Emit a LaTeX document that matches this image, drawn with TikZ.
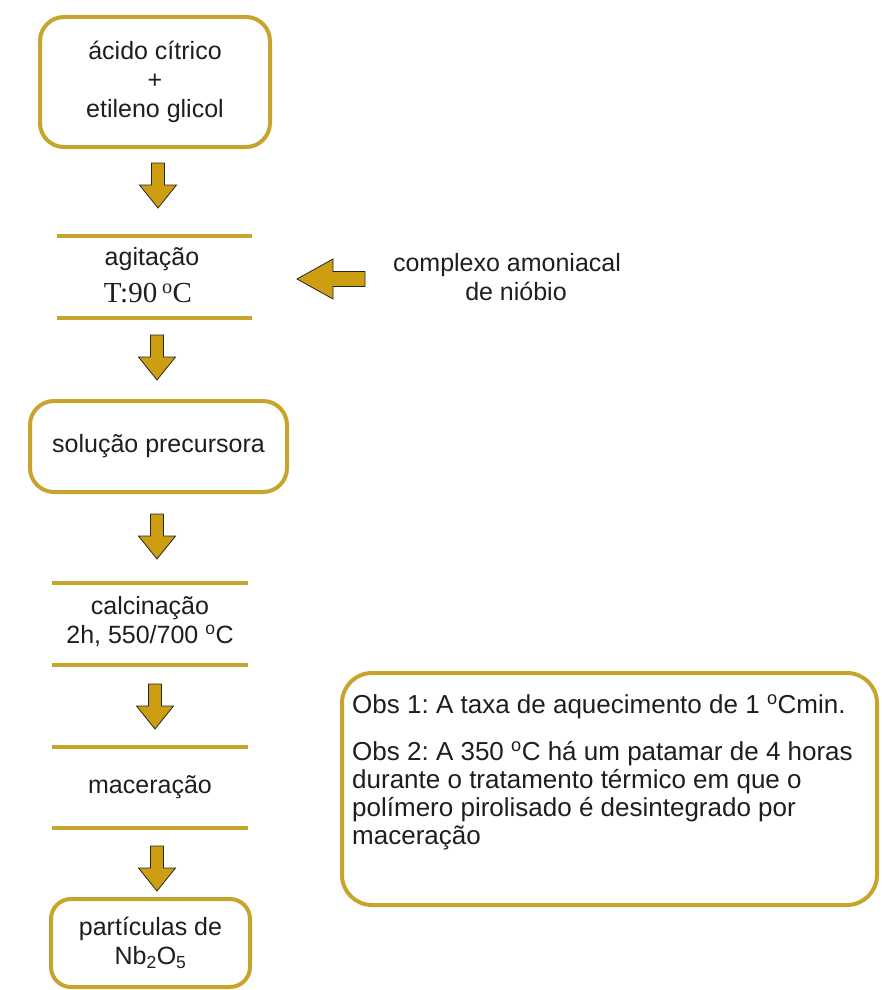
\documentclass[tikz,border=0pt]{standalone}
\usepackage{fontspec}
\setmainfont{Liberation Sans}
\newfontfamily\seriffam{Liberation Serif}
\definecolor{gold}{RGB}{199,165,45}
\definecolor{arrowgold}{RGB}{205,158,18}
\definecolor{txt}{RGB}{30,30,30}
\frenchspacing
\tikzset{
  roundbox/.style={draw=gold, line width=4pt, rounded corners=24pt, fill=white, text=txt, align=center,
    font=\fontsize{25}{29}\selectfont, inner sep=0pt},
  barline/.style={draw=gold, line width=4.5pt},
  lbl/.style={text=txt, font=\fontsize{25}{29}\selectfont, inner sep=0pt, align=center},
  blockarrow/.style={draw=black!85, line width=0.8pt, fill=arrowgold, line join=miter},
}
\begin{document}
\begin{tikzpicture}[x=1pt, y=-1pt]
\useasboundingbox (0,0) rectangle (881,990);

% first box
\node[roundbox, minimum width=230pt, minimum height=130pt] (b1) at (155,82) {ácido cítrico\\+\\etileno glicol};

% arrow 1
\draw[blockarrow, shift={(158,163)}] (-6.5,0) -- (6.5,0) -- (6.5,22) -- (18.5,22) -- (0,45) -- (-18.5,22) -- (-6.5,22) -- cycle;

% agitação
\coordinate (a1) at (57,236); \coordinate (a2) at (252,236);
\coordinate (a3) at (57,318); \coordinate (a4) at (252,318);
\draw[barline] (a1) -- (a2);
\draw[barline] (a3) -- (a4);
\node[lbl] (ag) at (152,259) {agitação};
\node[lbl, font=\seriffam\fontsize{29}{32}\selectfont] (temp) at (148,293) {T:90\,\textsuperscript{o}C};

% side arrow
\draw[blockarrow, shift={(297,279)}] (0,0) -- (36,-20) -- (36,-7.5) -- (68,-7.5) -- (68,7.5) -- (36,7.5) -- (36,20) -- cycle;
\node[lbl] (cx) at (507,277) {complexo amoniacal\\\hspace*{18pt}de nióbio};

% arrow 2
\draw[blockarrow, shift={(157,335)}] (-6.5,0) -- (6.5,0) -- (6.5,22) -- (18.5,22) -- (0,45) -- (-18.5,22) -- (-6.5,22) -- cycle;

% second box
\node[roundbox, minimum width=257pt, minimum height=91pt] (b2) at (158.5,446.5) {solução precursora};

% arrow 3
\draw[blockarrow, shift={(157,514)}] (-6.5,0) -- (6.5,0) -- (6.5,22) -- (18.5,22) -- (0,45) -- (-18.5,22) -- (-6.5,22) -- cycle;

% calcinação
\coordinate (c1) at (52,583); \coordinate (c2) at (248,583);
\coordinate (c3) at (52,665); \coordinate (c4) at (248,665);
\draw[barline] (c1) -- (c2);
\draw[barline] (c3) -- (c4);
\node[lbl] (calc) at (150,622) {calcinação\\2h, 550/700 \textsuperscript{o}C};

% arrow 4
\draw[blockarrow, shift={(155,684)}] (-6.5,0) -- (6.5,0) -- (6.5,22) -- (18.5,22) -- (0,45) -- (-18.5,22) -- (-6.5,22) -- cycle;

% maceração
\coordinate (m1) at (52,747); \coordinate (m2) at (248,747);
\coordinate (m3) at (52,828); \coordinate (m4) at (248,828);
\draw[barline] (m1) -- (m2);
\draw[barline] (m3) -- (m4);
\node[lbl] (mac) at (150,787) {maceração};

% arrow 5
\draw[blockarrow, shift={(157,846)}] (-6.5,0) -- (6.5,0) -- (6.5,22) -- (18.5,22) -- (0,45) -- (-18.5,22) -- (-6.5,22) -- cycle;

% third box
\node[roundbox, rounded corners=20pt, minimum width=199pt, minimum height=88pt] (b3) at (150.5,943) {partículas de\\Nb\textsubscript{2}O\textsubscript{5}};

% obs box
\node[roundbox, rounded corners=30pt, minimum width=535pt, minimum height=232pt] (obs) at (609.5,789) {};
\node[lbl, anchor=north west, align=left, font=\fontsize{26}{28}\selectfont] (obstext) at (352,694)
  {Obs 1: A taxa de aquecimento de 1 \textsuperscript{o}Cmin.\\[19pt]
   Obs 2: A 350 \textsuperscript{o}C há um patamar de 4 horas\\
   durante o tratamento térmico em que o\\
   polímero pirolisado é desintegrado por\\
   maceração};
\end{tikzpicture}
\end{document}
